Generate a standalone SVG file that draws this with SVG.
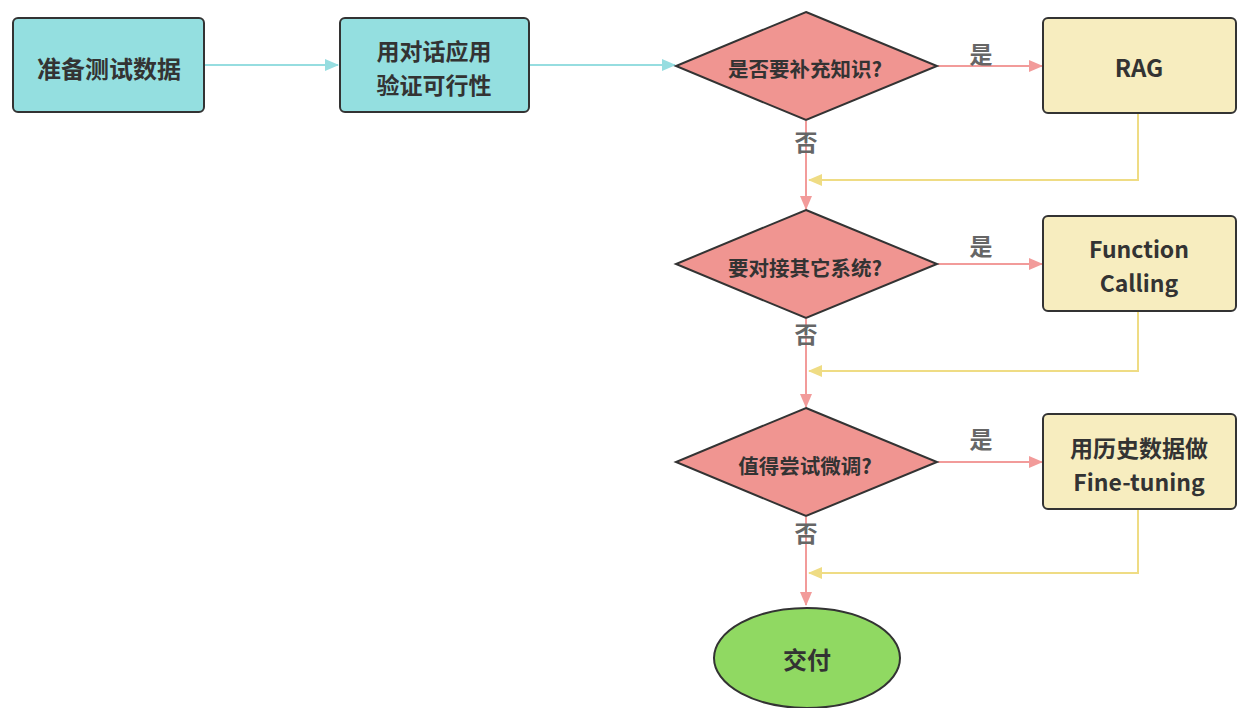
<svg xmlns="http://www.w3.org/2000/svg" width="1239" height="708" viewBox="0 0 1239 708">
<style>
text{font-family:"Noto Sans CJK SC","Noto Sans",sans-serif;font-weight:bold;text-anchor:middle;dominant-baseline:central;fill:#333}
.cy{fill:#94dfe0;stroke:#333;stroke-width:2}
.dm{fill:#f09591;stroke:#333;stroke-width:2}
.yb{fill:#f7edbf;stroke:#333;stroke-width:2}
.gr{fill:#90d962;stroke:#333;stroke-width:2}
.lc{stroke:#96dde0;stroke-width:2;fill:none}
.lp{stroke:#f29b9a;stroke-width:2;fill:none}
.ly{stroke:#efdc84;stroke-width:2;fill:none}
.lab{fill:#666;font-size:23px}
.t24{font-size:24px}
.t23{font-size:23px}
.t20{font-size:20.5px}
</style>
<defs>
<marker id="ac" markerWidth="14" markerHeight="12" refX="13" refY="6" orient="auto" markerUnits="userSpaceOnUse"><path d="M0,0 L14,6 L0,12 Z" fill="#96dde0"/></marker>
<marker id="ap" markerWidth="14" markerHeight="12" refX="13" refY="6" orient="auto" markerUnits="userSpaceOnUse"><path d="M0,0 L14,6 L0,12 Z" fill="#f29b9a"/></marker>
<marker id="ay" markerWidth="14" markerHeight="12" refX="13" refY="6" orient="auto" markerUnits="userSpaceOnUse"><path d="M0,0 L14,6 L0,12 Z" fill="#efdc84"/></marker>
</defs>
<rect width="1239" height="708" fill="#fff"/>
<g id="connectors">
<line class="lc" x1="205" y1="65" x2="338" y2="65" marker-end="url(#ac)"/>
<line class="lc" x1="530" y1="65" x2="675" y2="65" marker-end="url(#ac)"/>
<line class="lp" x1="938" y1="66" x2="1042" y2="66" marker-end="url(#ap)"/>
<line class="lp" x1="938" y1="264" x2="1042" y2="264" marker-end="url(#ap)"/>
<line class="lp" x1="938" y1="462" x2="1042" y2="462" marker-end="url(#ap)"/>
<line class="lp" x1="806" y1="121" x2="806" y2="209" marker-end="url(#ap)"/>
<line class="lp" x1="806" y1="319" x2="806" y2="407" marker-end="url(#ap)"/>
<line class="lp" x1="806" y1="517" x2="806" y2="605" marker-end="url(#ap)"/>
<polyline class="ly" points="1138,114 1138,180 809,180" marker-end="url(#ay)"/>
<polyline class="ly" points="1138,312 1138,371 809,371" marker-end="url(#ay)"/>
<polyline class="ly" points="1138,510 1138,573 809,573" marker-end="url(#ay)"/>
<text class="lab" x="981" y="53">是</text>
<text class="lab" x="981" y="245">是</text>
<text class="lab" x="981" y="438">是</text>
<text class="lab" x="806" y="141">否</text>
<text class="lab" x="806" y="333">否</text>
<text class="lab" x="806" y="532">否</text>
</g>
<g id="n1"><rect class="cy" x="13" y="18" width="191" height="94" rx="5"/><text class="t24" x="109" y="67">准备测试数据</text></g>
<g id="n2"><rect class="cy" x="340" y="18" width="189" height="94" rx="5"/><text class="t23" x="434" y="50">用对话应用<tspan x="434" dy="33.5">验证可行性</tspan></text></g>
<g id="d1"><polygon class="dm" points="806,12 937,66 806,120 676,66"/><text class="t20" x="805" y="68">是否要补充知识?</text></g>
<g id="r1"><rect class="yb" x="1043" y="18" width="193" height="95" rx="5"/><text class="t24" x="1139" y="66">RAG</text></g>
<g id="d2"><polygon class="dm" points="806,210 937,264 806,318 676,264"/><text class="t20" x="805" y="267">要对接其它系统?</text></g>
<g id="r2"><rect class="yb" x="1043" y="216" width="193" height="95" rx="5"/><text class="t23" x="1139" y="248">Function<tspan x="1139" dy="33.5">Calling</tspan></text></g>
<g id="d3"><polygon class="dm" points="806,408 937,462 806,516 676,462"/><text class="t20" x="805" y="465">值得尝试微调?</text></g>
<g id="r3"><rect class="yb" x="1043" y="414" width="193" height="95" rx="5"/><text class="t23" x="1139" y="447">用历史数据做<tspan x="1139" dy="33.5">Fine-tuning</tspan></text></g>
<g id="e1"><ellipse class="gr" cx="807" cy="658" rx="93" ry="50"/><text class="t24" x="807" y="658">交付</text></g>
</svg>
